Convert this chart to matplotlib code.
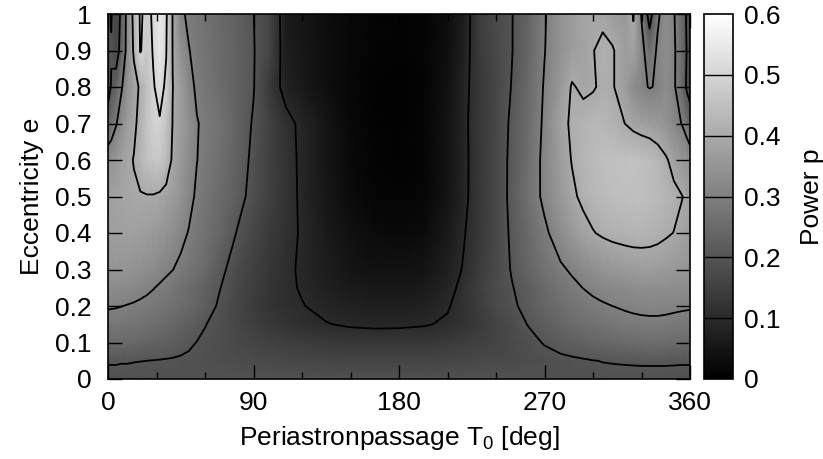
import matplotlib
matplotlib.use("Agg")
import matplotlib.pyplot as plt
import numpy as np

plt.rcParams['font.family'] = ['Liberation Sans', 'DejaVu Sans']
plt.rcParams['mathtext.fontset'] = 'custom'
plt.rcParams['mathtext.rm'] = 'Liberation Sans'
plt.rcParams['mathtext.it'] = 'Liberation Sans'

# Periastron passage T0 grid [deg]
t0_deg = [0, 2, 5, 8, 12, 16, 20, 24, 28, 32,
          36, 40, 45, 50, 55, 60, 70, 80, 90, 100,
          110, 120, 135, 150, 165, 180, 195, 210, 220, 230,
          240, 250, 260, 270, 280, 287, 294, 300, 306, 312,
          320, 325, 330, 335, 340, 345, 350, 355, 358, 360]

# Eccentricity grid
ecc = [0.0, 0.05, 0.1, 0.15, 0.2, 0.25, 0.3, 0.4, 0.5, 0.6, 0.7, 0.8, 0.9, 1.0]

# Power p, one row per eccentricity
p_e000 = [0.19, 0.19, 0.19, 0.19, 0.19, 0.19, 0.19, 0.19, 0.19, 0.19,
          0.19, 0.19, 0.19, 0.19, 0.19, 0.19, 0.19, 0.19, 0.19, 0.19,
          0.19, 0.19, 0.19, 0.19, 0.19, 0.19, 0.19, 0.19, 0.19, 0.19,
          0.19, 0.19, 0.19, 0.19, 0.19, 0.19, 0.19, 0.19, 0.19, 0.19,
          0.19, 0.19, 0.19, 0.19, 0.19, 0.19, 0.19, 0.19, 0.19, 0.19]
p_e005 = [0.203, 0.203, 0.203, 0.202, 0.202, 0.201, 0.2005, 0.2, 0.199, 0.198,
          0.197, 0.196, 0.194, 0.192, 0.19, 0.188, 0.184, 0.18, 0.176, 0.172,
          0.168, 0.165, 0.162, 0.16, 0.16, 0.16, 0.161, 0.163, 0.166, 0.169,
          0.173, 0.177, 0.181, 0.185, 0.19, 0.193, 0.196, 0.199, 0.201, 0.202,
          0.203, 0.2035, 0.204, 0.204, 0.204, 0.204, 0.2035, 0.203, 0.203, 0.203]
p_e010 = [0.25, 0.25, 0.249, 0.248, 0.246, 0.244, 0.241, 0.238, 0.234, 0.23,
          0.226, 0.221, 0.215, 0.207, 0.199, 0.192, 0.181, 0.171, 0.162, 0.154,
          0.147, 0.141, 0.135, 0.131, 0.129, 0.129, 0.131, 0.137, 0.143, 0.15,
          0.16, 0.172, 0.187, 0.203, 0.216, 0.224, 0.231, 0.237, 0.242, 0.246,
          0.251, 0.253, 0.255, 0.256, 0.256, 0.255, 0.253, 0.251, 0.25, 0.25]
p_e015 = [0.28, 0.28, 0.279, 0.277, 0.275, 0.272, 0.268, 0.264, 0.259, 0.254,
          0.248, 0.242, 0.234, 0.224, 0.213, 0.202, 0.183, 0.165, 0.148, 0.133,
          0.12, 0.11, 0.102, 0.094, 0.091, 0.092, 0.096, 0.106, 0.12, 0.138,
          0.158, 0.18, 0.202, 0.222, 0.24, 0.25, 0.259, 0.266, 0.272, 0.277,
          0.284, 0.287, 0.289, 0.29, 0.29, 0.288, 0.285, 0.282, 0.281, 0.28]
p_e020 = [0.305, 0.304, 0.303, 0.301, 0.298, 0.295, 0.291, 0.287, 0.282, 0.277,
          0.271, 0.265, 0.257, 0.247, 0.236, 0.222, 0.19, 0.163, 0.14, 0.123,
          0.111, 0.102, 0.088, 0.078, 0.072, 0.072, 0.078, 0.096, 0.118, 0.145,
          0.172, 0.192, 0.215, 0.238, 0.257, 0.27, 0.281, 0.289, 0.295, 0.3,
          0.306, 0.309, 0.311, 0.312, 0.312, 0.311, 0.309, 0.307, 0.306, 0.305]
p_e025 = [0.33, 0.33, 0.329, 0.327, 0.324, 0.32, 0.315, 0.309, 0.302, 0.294,
          0.286, 0.277, 0.266, 0.255, 0.243, 0.23, 0.199, 0.17, 0.146, 0.126,
          0.109, 0.096, 0.075, 0.062, 0.055, 0.054, 0.06, 0.085, 0.113, 0.148,
          0.177, 0.198, 0.22, 0.247, 0.272, 0.288, 0.301, 0.31, 0.317, 0.322,
          0.328, 0.331, 0.333, 0.334, 0.334, 0.333, 0.332, 0.331, 0.33, 0.33]
p_e030 = [0.35, 0.35, 0.35, 0.349, 0.347, 0.344, 0.339, 0.333, 0.326, 0.318,
          0.309, 0.301, 0.288, 0.276, 0.263, 0.25, 0.21, 0.176, 0.15, 0.128,
          0.11, 0.093, 0.068, 0.05, 0.042, 0.04, 0.046, 0.074, 0.104, 0.14,
          0.172, 0.204, 0.237, 0.268, 0.292, 0.307, 0.322, 0.334, 0.345, 0.354,
          0.362, 0.366, 0.368, 0.368, 0.366, 0.362, 0.358, 0.354, 0.352, 0.35]
p_e040 = [0.37, 0.371, 0.373, 0.374, 0.375, 0.375, 0.373, 0.369, 0.363, 0.355,
          0.345, 0.333, 0.315, 0.297, 0.28, 0.265, 0.237, 0.197, 0.165, 0.138,
          0.115, 0.095, 0.063, 0.038, 0.026, 0.023, 0.028, 0.06, 0.096, 0.135,
          0.17, 0.209, 0.248, 0.289, 0.33, 0.357, 0.38, 0.397, 0.408, 0.415,
          0.42, 0.422, 0.422, 0.42, 0.415, 0.407, 0.399, 0.385, 0.376, 0.37]
p_e050 = [0.375, 0.378, 0.382, 0.386, 0.39, 0.394, 0.396, 0.397, 0.396, 0.39,
          0.38, 0.367, 0.347, 0.317, 0.291, 0.275, 0.25, 0.218, 0.183, 0.15,
          0.121, 0.091, 0.055, 0.027, 0.013, 0.01, 0.016, 0.048, 0.088, 0.13,
          0.17, 0.214, 0.265, 0.313, 0.36, 0.389, 0.413, 0.427, 0.437, 0.443,
          0.448, 0.449, 0.448, 0.445, 0.438, 0.428, 0.415, 0.402, 0.39, 0.375]
p_e060 = [0.34, 0.347, 0.36, 0.375, 0.39, 0.402, 0.425, 0.45, 0.468, 0.47,
          0.44, 0.39, 0.36, 0.33, 0.301, 0.285, 0.26, 0.228, 0.188, 0.152,
          0.12, 0.09, 0.05, 0.022, 0.01, 0.007, 0.013, 0.045, 0.087, 0.13,
          0.17, 0.213, 0.26, 0.315, 0.37, 0.403, 0.428, 0.44, 0.448, 0.452,
          0.455, 0.455, 0.452, 0.444, 0.43, 0.408, 0.38, 0.355, 0.347, 0.34]
p_e070 = [0.24, 0.26, 0.295, 0.33, 0.37, 0.39, 0.415, 0.46, 0.49, 0.495,
          0.46, 0.398, 0.37, 0.34, 0.303, 0.29, 0.265, 0.232, 0.195, 0.155,
          0.117, 0.088, 0.05, 0.02, 0.008, 0.006, 0.012, 0.045, 0.088, 0.132,
          0.168, 0.21, 0.255, 0.31, 0.38, 0.41, 0.42, 0.43, 0.43, 0.42,
          0.399, 0.385, 0.375, 0.37, 0.36, 0.345, 0.32, 0.298, 0.27, 0.24]
p_e080 = [0.17, 0.205, 0.23, 0.29, 0.34, 0.375, 0.41, 0.45, 0.495, 0.52,
          0.49, 0.401, 0.37, 0.32, 0.29, 0.278, 0.255, 0.228, 0.203, 0.135,
          0.08, 0.06, 0.035, 0.015, 0.005, 0.004, 0.01, 0.04, 0.085, 0.13,
          0.165, 0.203, 0.25, 0.305, 0.36, 0.405, 0.39, 0.395, 0.41, 0.405,
          0.37, 0.33, 0.31, 0.297, 0.305, 0.33, 0.31, 0.25, 0.19, 0.17]
p_e090 = [0.18, 0.195, 0.17, 0.22, 0.33, 0.41, 0.505, 0.47, 0.505, 0.54,
          0.503, 0.398, 0.34, 0.302, 0.285, 0.272, 0.25, 0.228, 0.203, 0.16,
          0.07, 0.055, 0.035, 0.02, 0.01, 0.008, 0.012, 0.035, 0.075, 0.14,
          0.172, 0.199, 0.24, 0.298, 0.345, 0.37, 0.38, 0.398, 0.415, 0.405,
          0.37, 0.38, 0.32, 0.26, 0.31, 0.335, 0.31, 0.255, 0.197, 0.18]
p_e100 = [0.17, 0.205, 0.16, 0.21, 0.33, 0.42, 0.51, 0.48, 0.51, 0.55,
          0.51, 0.397, 0.31, 0.29, 0.277, 0.266, 0.246, 0.225, 0.201, 0.16,
          0.065, 0.05, 0.032, 0.018, 0.01, 0.008, 0.012, 0.035, 0.07, 0.145,
          0.175, 0.199, 0.235, 0.295, 0.345, 0.37, 0.385, 0.39, 0.385, 0.37,
          0.36, 0.405, 0.295, 0.16, 0.29, 0.33, 0.305, 0.25, 0.19, 0.17]

power_rows = [p_e000, p_e005, p_e010, p_e015, p_e020, p_e025, p_e030,
              p_e040, p_e050, p_e060, p_e070, p_e080, p_e090, p_e100]

contour_levels = [0.1, 0.2, 0.3, 0.4, 0.5]
x_ticks = [0, 90, 180, 270, 360]
y_ticks = [0, 0.1, 0.2, 0.3, 0.4, 0.5, 0.6, 0.7, 0.8, 0.9, 1]
y_tick_labels = ["0", "0.1", "0.2", "0.3", "0.4", "0.5", "0.6", "0.7", "0.8", "0.9", "1"]
cb_ticks = [0, 0.1, 0.2, 0.3, 0.4, 0.5, 0.6]
cb_tick_labels = ["0", "0.1", "0.2", "0.3", "0.4", "0.5", "0.6"]

X, E = np.meshgrid(np.array(t0_deg, float), np.array(ecc, float))
Z = np.array(power_rows, float)

W, H = 823, 459
fig = plt.figure(figsize=(W / 100, H / 100), dpi=100)
L, R, T, B = 108, 690, 14, 379
ax = fig.add_axes([L / W, 1 - B / H, (R - L) / W, (B - T) / H])
cax = fig.add_axes([704 / W, 1 - B / H, 29 / W, (B - T) / H])

fs = 19
mesh = ax.pcolormesh(X, E, Z, shading='gouraud', cmap='gray', vmin=0, vmax=0.6,
                     rasterized=True)
ax.contour(X, E, Z, levels=contour_levels, colors='black', linewidths=1.3)

ax.set_xlim(0, 360)
ax.set_ylim(0, 1)
ax.set_xticks(x_ticks)
ax.set_xticks(np.arange(0, 361, 30), minor=True)
ax.set_yticks(y_ticks)
ax.set_yticklabels(y_tick_labels)
ax.tick_params(axis='both', which='major', direction='in', top=True, right=True,
               length=10, width=1.0, labelsize=fs, colors='black')
ax.tick_params(axis='x', which='major', pad=9)
ax.tick_params(axis='y', which='major', pad=12)
ax.tick_params(axis='x', which='minor', direction='in', top=True, length=5, width=1.0)
for s in ax.spines.values():
    s.set_linewidth(1.2)

ax.set_xlabel(r"Periastronpassage T$_0$ [deg]", fontsize=fs, labelpad=6)
ax.set_ylabel("Eccentricity e", fontsize=fs, labelpad=8)

cb = fig.colorbar(mesh, cax=cax)
cb.set_ticks(cb_ticks)
cb.set_ticklabels(cb_tick_labels)
cb.ax.tick_params(labelsize=fs, length=0, pad=8)
for lev in contour_levels:
    cb.ax.axhline(lev, color='black', linewidth=1.0)
cb.outline.set_linewidth(1.2)
cb.set_label("Power p", fontsize=fs, labelpad=14)

fig.savefig("out.png", dpi=100)
